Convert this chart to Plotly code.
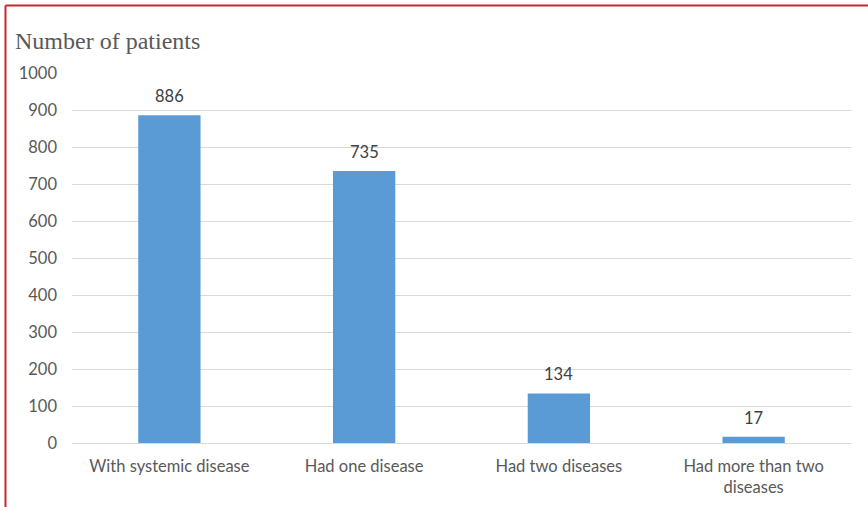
import plotly.graph_objects as go

categories = ["With systemic disease", "Had one disease", "Had two diseases", "Had more than two<br>diseases"]
patients = [886, 735, 134, 17]
y_ticks = [0, 100, 200, 300, 400, 500, 600, 700, 800, 900, 1000]

W, H = 868, 507
L, R, T, B = 72, 17, 73, 64

fig = go.Figure(
    go.Bar(
        x=categories,
        y=patients,
        marker=dict(color="#5B9BD5", line=dict(width=0)),
        hoverinfo="skip",
    )
)

# value labels above each bar
for c, v in zip(categories, patients):
    fig.add_annotation(
        x=c, y=v, text=str(v), showarrow=False, yanchor="bottom", yshift=7,
        font=dict(family="Lato", size=16.5, color="#404040"),
    )

# red frame along the top and left edges
pw, ph = W - L - R, H - T - B
x_left = (5.5 - L) / pw
y_top = (H - B - 5.5) / ph
fig.add_shape(type="line", xref="paper", yref="paper", x0=x_left, x1=(W - L) / pw,
              y0=y_top, y1=y_top, line=dict(color="#C8282E", width=2))
fig.add_shape(type="line", xref="paper", yref="paper", x0=x_left, x1=x_left,
              y0=y_top, y1=-(B + 5) / ph, line=dict(color="#C8282E", width=2))

fig.update_layout(
    width=W, height=H,
    margin=dict(l=L, r=R, t=T, b=B, autoexpand=False),
    paper_bgcolor="white", plot_bgcolor="white",
    bargap=0.68,
    showlegend=False,
    title=dict(text="Number of patients", x=15 / W, xanchor="left", y=1 - 41 / H, yanchor="middle",
               font=dict(family="Liberation Serif", size=24, color="#595959")),
    font=dict(family="Lato", size=16.5, color="#595959"),
)
fig.update_xaxes(showgrid=False, showline=True, linecolor="#D9D9D9", linewidth=1, automargin=False,
                 ticks="", tickfont=dict(size=16.5, color="#595959"), ticklabelstandoff=8)
fig.update_yaxes(range=[0, 1000], tickvals=y_ticks, showgrid=True, gridcolor="#D9D9D9",
                 gridwidth=1, zeroline=False, showline=False, ticks="", automargin=False,
                 tickfont=dict(size=16.5, color="#595959"), ticklabelstandoff=14)

fig.write_html("out.html")
